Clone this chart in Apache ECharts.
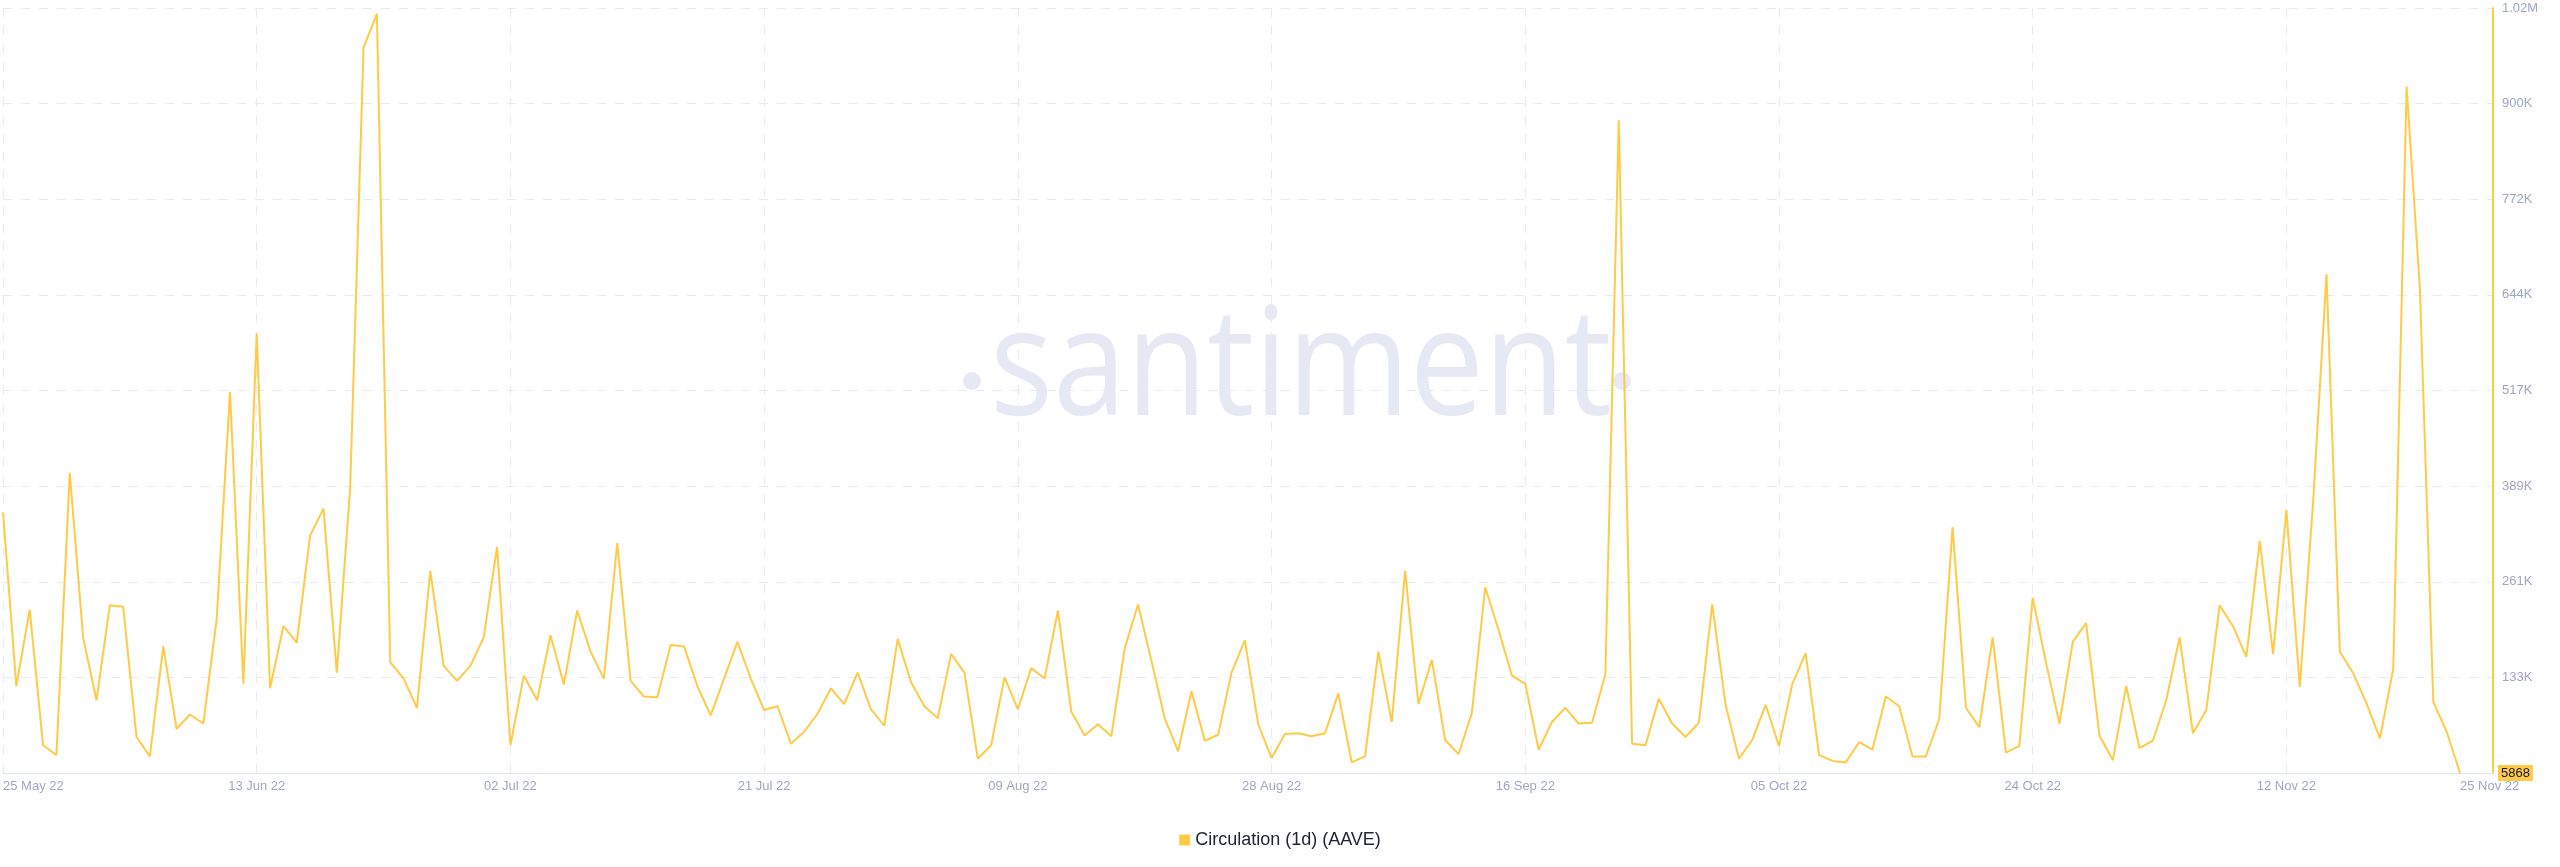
<!DOCTYPE html>
<html>
<head>
<meta charset="utf-8">
<script src="https://cdn.jsdelivr.net/npm/echarts@6/dist/echarts.min.js"></script>
<style>
  html, body { margin: 0; padding: 0; background: #ffffff; }
  #chart { width: 2560px; height: 867px; }
</style>
</head>
<body>
<div id="chart"></div>
<script>
// Day index 0 = 25 May 22, daily through 25 Nov 22 (index 184)
const seriesName = 'Circulation (1d) (AAVE)';
const values = [
  354000, 122000, 224000, 43000, 30000, 407000, 187000, 103000, 230000, 228000,
  54000, 28000, 175000, 65000, 84000, 72000, 211000, 515000, 125000, 593000,
  119000, 202000, 180000, 323000, 359000, 140000, 388000, 975000, 1020000, 154000,
  132000, 93000, 276000, 149000, 129000, 149000, 187000, 308000, 43000, 136000,
  103000, 190000, 124000, 223000, 168000, 132000, 313000, 129000, 108000, 107000,
  177000, 175000, 122000, 83000, 132000, 181000, 132000, 90000, 95000, 45000,
  61000, 85000, 119000, 98000, 140000, 91000, 69000, 185000, 127000, 95000,
  79000, 165000, 140000, 25000, 43000, 134000, 91000, 146000, 132000, 223000,
  88000, 56000, 71000, 55000, 172000, 231000, 156000, 79000, 35000, 115000,
  49000, 57000, 140000, 183000, 71000, 26000, 58000, 59000, 55000, 59000,
  112000, 20000, 28000, 168000, 74000, 276000, 98000, 157000, 50000, 31000,
  86000, 254000, 197000, 136000, 125000, 37000, 74000, 93000, 72000, 73000,
  138000, 878000, 45000, 43000, 105000, 72000, 54000, 73000, 231000, 97000,
  25000, 50000, 97000, 42000, 125000, 166000, 30000, 22000, 20000, 47000,
  37000, 108000, 95000, 28000, 28000, 78000, 334000, 93000, 67000, 187000,
  33000, 42000, 240000, 153000, 72000, 181000, 206000, 56000, 23000, 122000,
  39000, 49000, 103000, 187000, 59000, 90000, 230000, 202000, 161000, 316000,
  165000, 357000, 121000, 368000, 672000, 168000, 139000, 99000, 52000, 145000,
  923000, 651000, 101000, 61000, 5868
];
const xGridDays = [0, 19, 38, 57, 76, 95, 114, 133, 152, 171];
const xLabelDays = [0, 19, 38, 57, 76, 95, 114, 133, 152, 171, 184];
const xLabels = ['25 May 22', '13 Jun 22', '02 Jul 22', '21 Jul 22', '09 Aug 22', '28 Aug 22',
                 '16 Sep 22', '05 Oct 22', '24 Oct 22', '12 Nov 22', '25 Nov 22'];
const yMin = 5868;
const yStep = 127750;
const yLabels = ['5868', '133K', '261K', '389K', '517K', '644K', '772K', '900K', '1.02M'];

const chart = echarts.init(document.getElementById('chart'), null, { renderer: 'canvas' });
const gridColor = '#e8eaf3';
const labelColor = '#9ea7c3';
const yellow = '#ffcb47';
const markColor = '#e6e9f3';

chart.setOption({
  animation: false,
  backgroundColor: '#ffffff',
  graphic: [
    {
      type: 'text', z: -10, silent: true,
      x: 990, y: 447, scaleX: 0.88,
      style: {
        text: 'santiment', x: 0, y: 0,
        font: '150px "Open Sans"',
        fill: markColor, align: 'left', verticalAlign: 'bottom'
      }
    },
    { type: 'circle', z: -10, silent: true, shape: { cx: 972, cy: 381, r: 9 }, style: { fill: markColor } },
    { type: 'circle', z: -10, silent: true, shape: { cx: 1622, cy: 381, r: 9 }, style: { fill: markColor } }
  ],
  grid: { left: 0, right: 67, top: 8, bottom: 94, containLabel: false },
  legend: {
    data: [seriesName],
    top: 826, left: 'center',
    icon: 'rect', itemWidth: 11, itemHeight: 11, itemGap: 8,
    textStyle: { fontSize: 18, color: '#1f2233', fontFamily: '"Liberation Sans", Arial, sans-serif' }
  },
  xAxis: {
    type: 'value',
    min: 0, max: 186.47, interval: 19,
    axisLine: { show: true, onZero: false, lineStyle: { color: '#e2e5ef', width: 1 } },
    axisTick: { show: false, customValues: xGridDays },
    splitLine: { show: true, lineStyle: { type: [9, 9], color: gridColor, width: 1 } },
    axisLabel: {
      customValues: xLabelDays,
      formatter: v => { const k = xLabelDays.indexOf(v); return k >= 0 ? xLabels[k] : ''; },
      color: labelColor, fontSize: 13, margin: 7,
      fontFamily: '"Liberation Sans", Arial, sans-serif',
      alignMinLabel: 'left', alignMaxLabel: 'left'
    }
  },
  yAxis: {
    type: 'value', position: 'right',
    min: yMin, max: yMin + yStep * 8, interval: yStep,
    axisLine: { show: true, onZero: false, lineStyle: { color: yellow, width: 2 } },
    axisTick: { show: false },
    splitLine: { show: true, lineStyle: { type: [9, 9], color: gridColor, width: 1 } },
    axisLabel: {
      margin: 5,
      formatter: (v, i) => i === 0 ? '{hl|' + yLabels[i] + '}' : '{n|' + yLabels[i] + '}',
      color: labelColor, fontSize: 13,
      fontFamily: '"Liberation Sans", Arial, sans-serif',
      rich: {
        n: { color: labelColor, fontSize: 13, padding: [0, 0, 0, 4], fontFamily: '"Liberation Sans", Arial, sans-serif' },
        hl: { color: '#15172a', fontSize: 13, backgroundColor: yellow, padding: [2, 3, 1, 3], fontFamily: '"Liberation Sans", Arial, sans-serif' }
      }
    }
  },
  series: [{
    name: seriesName,
    type: 'line',
    data: values.map((v, i) => [i, v]),
    symbol: 'none',
    smooth: false,
    lineStyle: { color: yellow, width: 2 },
    itemStyle: { color: yellow },
    z: 3
  }]
});
</script>
</body>
</html>
